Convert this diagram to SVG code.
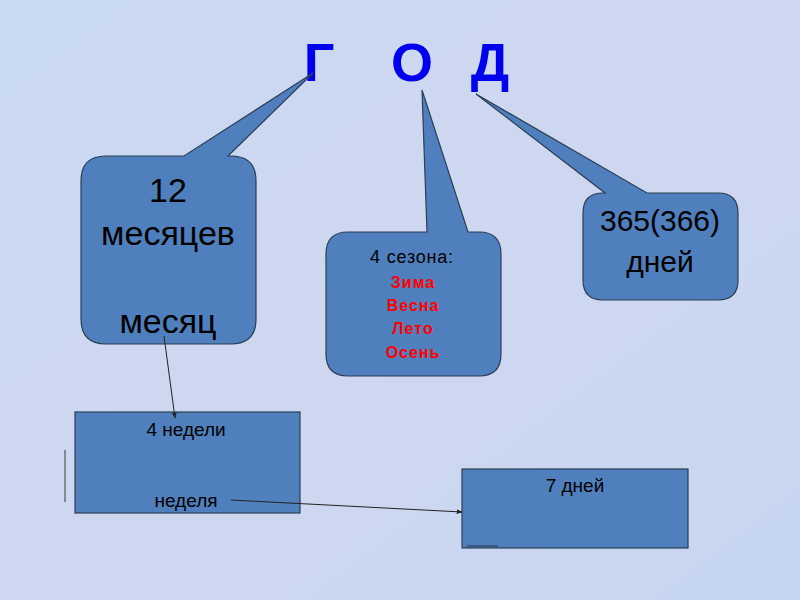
<svg xmlns="http://www.w3.org/2000/svg" width="800" height="600" viewBox="0 0 800 600">
<defs>
<linearGradient id="bg" x1="0" y1="0" x2="1" y2="1">
<stop offset="0" stop-color="#c9d9f2"/>
<stop offset="0.5" stop-color="#cfd7f0"/>
<stop offset="1" stop-color="#c6d6f0"/>
</linearGradient>
<marker id="arr" viewBox="0 0 10 10" refX="9" refY="5" markerWidth="6" markerHeight="6" orient="auto">
<path d="M0,1 L10,5 L0,9 Z" fill="#222"/>
</marker>
<style>
.shape{fill:#4f7fbc;stroke:#2c3e58;stroke-width:1.2}
.t{font-family:"Liberation Sans",Arial,sans-serif;fill:#000;text-anchor:middle}
.r{font-family:"Liberation Sans",Arial,sans-serif;fill:#ff0000;font-weight:bold;text-anchor:middle;font-size:16px;letter-spacing:1px}
.h{font-family:"Liberation Sans",Arial,sans-serif;fill:#0000ee;font-weight:bold;font-size:54px;text-anchor:middle}
.c{stroke:#222;stroke-width:1;fill:none}
</style>
</defs>
<rect width="800" height="600" fill="url(#bg)"/>
<g id="title">
<text class="h" x="319" y="81">Г</text>
<text class="h" x="412" y="81">О</text>
<text class="h" x="490" y="81">Д</text>
</g>
<g id="months">
<path class="shape" d="M106 156 L184 156 L313 73 L228 156 L231 156 Q256 156 256 181 L256 319 Q256 344 231 344 L106 344 Q81 344 81 319 L81 181 Q81 156 106 156 Z"/>
<text class="t" x="168" y="202" font-size="34">12</text>
<text class="t" x="168" y="245" font-size="34">месяцев</text>
<text class="t" x="168" y="333" font-size="34">месяц</text>
</g>
<g id="seasons">
<path class="shape" d="M348 232 L427 232 L422 90 L468 232 L479 232 Q501 232 501 254 L501 354 Q501 376 479 376 L348 376 Q326 376 326 354 L326 254 Q326 232 348 232 Z"/>
<text class="t" x="412" y="263" font-size="18" letter-spacing="0.8">4 сезона:</text>
<text class="r" x="413" y="288">Зима</text>
<text class="r" x="413" y="311">Весна</text>
<text class="r" x="413" y="334">Лето</text>
<text class="r" x="413" y="358">Осень</text>
</g>
<g id="days">
<path class="shape" d="M603 193 L605 193 L476 94 L647 193 L718 193 Q738 193 738 213 L738 280 Q738 300 718 300 L603 300 Q583 300 583 280 L583 213 Q583 193 603 193 Z"/>
<text class="t" x="660" y="231" font-size="30">365(366)</text>
<text class="t" x="660" y="272" font-size="30">дней</text>
</g>
<g id="weeks">
<rect class="shape" x="75" y="412" width="225" height="101"/>
<text class="t" x="186" y="436" font-size="19">4 недели</text>
<text class="t" x="186" y="507" font-size="19">неделя</text>
</g>
<g id="week">
<rect class="shape" x="462" y="469" width="226" height="79"/>
<text class="t" x="575" y="492" font-size="19">7 дней</text>
<line x1="467" y1="546" x2="498" y2="546" stroke="#2c3e58" stroke-width="1.2"/>
</g>
<g id="connectors">
<line class="c" x1="164" y1="336" x2="175" y2="418" marker-end="url(#arr)"/>
<line class="c" x1="231" y1="500" x2="462" y2="512" marker-end="url(#arr)"/>
<line x1="65" y1="450" x2="65" y2="502" stroke="#555" stroke-width="1.2"/>
</g>
</svg>
